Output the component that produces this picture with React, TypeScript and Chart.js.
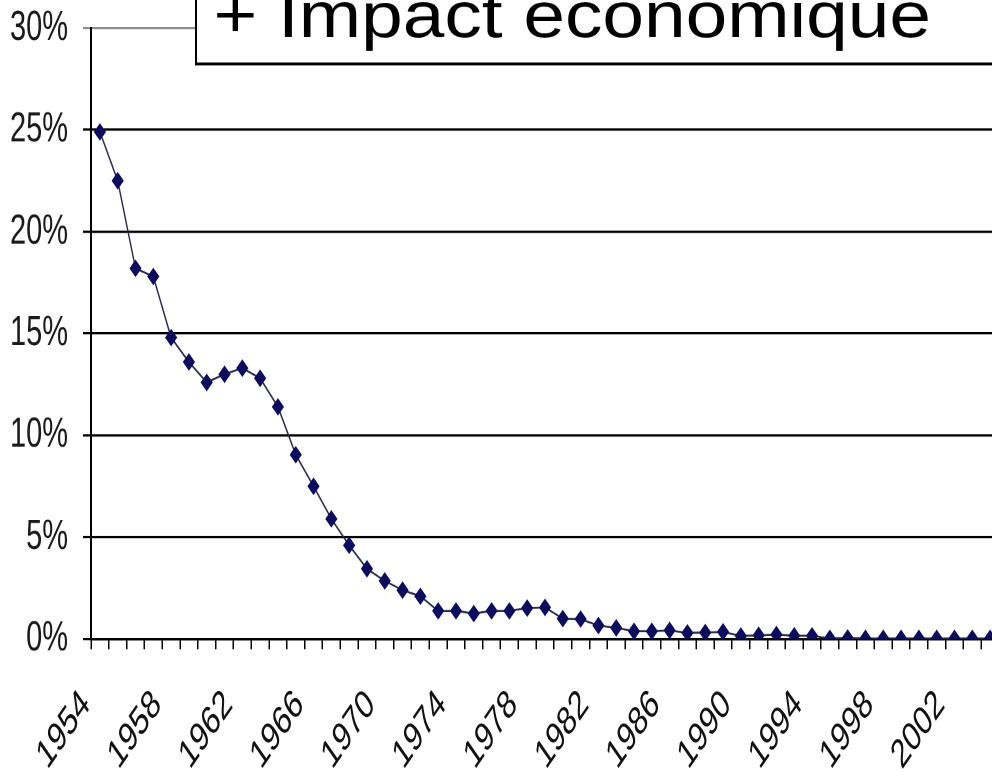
import React, { useEffect, useRef } from "react";
import { Chart, registerables } from "chart.js";

Chart.register(...registerables);

const years: string[] = [
  "1954","1955","1956","1957","1958","1959","1960","1961","1962","1963",
  "1964","1965","1966","1967","1968","1969","1970","1971","1972","1973",
  "1974","1975","1976","1977","1978","1979","1980","1981","1982","1983",
  "1984","1985","1986","1987","1988","1989","1990","1991","1992","1993",
  "1994","1995","1996","1997","1998","1999","2000","2001","2002","2003","2004",
];

const shareValues: number[] = [
  24.9, 22.5, 18.2, 17.8, 14.8, 13.6, 12.6, 13.0, 13.3, 12.8,
  11.4, 9.05, 7.5, 5.9, 4.6, 3.45, 2.85, 2.4, 2.1, 1.38,
  1.38, 1.25, 1.38, 1.38, 1.52, 1.55, 1.0, 0.98, 0.66, 0.55,
  0.38, 0.38, 0.42, 0.3, 0.32, 0.35, 0.15, 0.18, 0.22, 0.16,
  0.16, 0.03, 0.05, 0.03, 0.03, 0.03, 0.03, 0.03, 0.03, 0.03, 0.03,
];

const yTicks: number[] = [0, 5, 10, 15, 20, 25, 30];
const titleText = "+ Impact économique";

// The reference picture is stretched vertically; the chart is drawn flat and stretched by K.
const K = 1.45;
const CANVAS_W = 1010;
const CANVAS_H = Math.round(781 / K);

const titleBox = {
  id: "titleBox",
  afterDraw(chart: any) {
    const ctx = chart.ctx as CanvasRenderingContext2D;
    ctx.save();
    ctx.fillStyle = "#ffffff";
    ctx.fillRect(196, -10, 900, 64 / K + 10);
    ctx.strokeStyle = "#000000";
    ctx.lineWidth = 2;
    ctx.strokeRect(196, -10, 900, 64 / K + 10);
    ctx.font = "64px 'Liberation Sans', Arial, sans-serif";
    ctx.fillStyle = "#000000";
    ctx.textBaseline = "alphabetic";
    ctx.textAlign = "left";
    const m = ctx.measureText(titleText);
    const ink = m.actualBoundingBoxLeft + m.actualBoundingBoxRight;
    const sx = 711 / ink;
    ctx.translate(217, 37 / K);
    ctx.scale(sx, 1 / K);
    ctx.fillText(titleText, m.actualBoundingBoxLeft, 0);
    ctx.restore();
  },
};

export default function App() {
  const ref = useRef<HTMLCanvasElement | null>(null);

  useEffect(() => {
    document.body.style.margin = "0";
    if (!ref.current) return;
    const chart = new Chart(ref.current, {
      type: "line",
      data: {
        labels: years,
        datasets: [
          {
            data: shareValues,
            borderColor: "#2b2b4e",
            borderWidth: 1.4,
            pointStyle: "rectRot",
            pointRadius: 5.4,
            pointBackgroundColor: "#0d0d5c",
            pointBorderColor: "#0d0d5c",
            pointBorderWidth: 1,
            tension: 0,
          },
        ],
      },
      options: {
        animation: false,
        responsive: false,
        maintainAspectRatio: false,
        devicePixelRatio: 2,
        layout: { padding: { top: 28 / K, right: 11, left: 0, bottom: 0 } },
        plugins: {
          legend: { display: false },
          tooltip: { enabled: false },
          title: { display: false },
        },
        scales: {
          x: {
            type: "category",
            offset: true,
            afterFit: (s: any) => {
              s.height = CANVAS_H - 639 / K;
              s.paddingLeft = 0;
              s.paddingRight = 0;
            },
            border: { display: true, color: "#000000", width: 1.6 },
            grid: {
              offset: true,
              drawOnChartArea: false,
              drawTicks: true,
              tickLength: 7,
              color: "#000000",
              lineWidth: 1.5,
            },
            ticks: {
              autoSkip: false,
              minRotation: 45,
              maxRotation: 45,
              padding: 22,
              labelOffset: -14,
              color: "#111111",
              font: { family: "'Liberation Sans', Arial, sans-serif", size: 28 },
              callback: (_v: any, i: number) =>
                (Number(years[i]) - 1954) % 4 === 0 ? years[i] : "",
            },
          },
          y: {
            min: 0,
            max: 30,
            afterFit: (s: any) => {
              s.width = 91;
              s.paddingTop = 0;
              s.paddingBottom = 0;
            },
            afterBuildTicks: (s: any) => {
              s.ticks = yTicks.map((v) => ({ value: v }));
            },
            border: { display: true, color: "#000000", width: 2 },
            grid: {
              color: (c: any) =>
                c.tick && c.tick.value === 30 ? "#8c8c8c" : "#000000",
              lineWidth: 1.6,
              tickLength: 8,
              drawTicks: true,
            },
            ticks: {
              padding: 15,
              color: "#1a1a1a",
              font: { family: "'Liberation Sans', Arial, sans-serif", size: 29 },
              callback: (v: any) => v + "%",
            },
          },
        },
      },
      plugins: [titleBox],
    });
    return () => chart.destroy();
  }, []);

  return (
    <div
      style={{
        position: "absolute",
        left: 0,
        top: 0,
        width: 992,
        height: 781,
        overflow: "hidden",
        background: "#ffffff",
      }}
    >
      <div
        style={{
          width: CANVAS_W,
          height: CANVAS_H,
          transform: `scaleY(${K})`,
          transformOrigin: "0 0",
        }}
      >
        <canvas
          ref={ref}
          width={CANVAS_W}
          height={CANVAS_H}
          style={{ display: "block" }}
        />
      </div>
    </div>
  );
}
